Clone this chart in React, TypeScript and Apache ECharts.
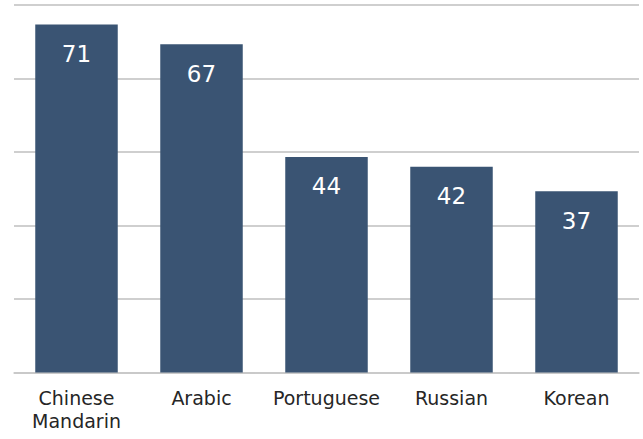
import React, { useEffect, useRef } from "react";
import * as echarts from "echarts";

const categories = ["Chinese\nMandarin", "Arabic", "Portuguese", "Russian", "Korean"];
const values = [71, 67, 44, 42, 37];
const yMin = 0;
const yMax = 75;
const yInterval = 15;

export default function App() {
  const ref = useRef<HTMLDivElement>(null);
  useEffect(() => {
    if (!ref.current) return;
    const chart = echarts.init(ref.current, undefined, { renderer: "svg" });
    const font = "'DejaVu Sans', sans-serif";
    chart.setOption({
      animation: false,
      backgroundColor: "#ffffff",
      grid: { left: 14, right: 4, top: 5, bottom: 66.5, containLabel: false },
      xAxis: {
        type: "category",
        data: categories,
        axisLine: { show: true, lineStyle: { color: "#c8c8c8", width: 1.5 } },
        axisTick: { show: false },
        axisLabel: {
          color: "#262626",
          fontSize: 19,
          fontFamily: font,
          margin: 14,
          lineHeight: 23,
          interval: 0,
        },
      },
      yAxis: {
        type: "value",
        min: yMin,
        max: yMax,
        interval: yInterval,
        axisLabel: { show: false },
        axisLine: { show: false },
        axisTick: { show: false },
        splitLine: { show: true, lineStyle: { color: "#bfbfbf", width: 1.5 } },
      },
      series: [
        {
          type: "bar",
          data: values,
          barWidth: "66%",
          itemStyle: { color: "#3a5473" },
          label: {
            show: true,
            position: "insideTop",
            distance: 18,
            color: "#ffffff",
            fontSize: 23,
            fontFamily: font,
          },
        },
      ],
    });
    return () => chart.dispose();
  }, []);
  return (
    <div
      ref={ref}
      style={{ position: "fixed", left: 0, top: 0, width: 643, height: 439 }}
    />
  );
}
